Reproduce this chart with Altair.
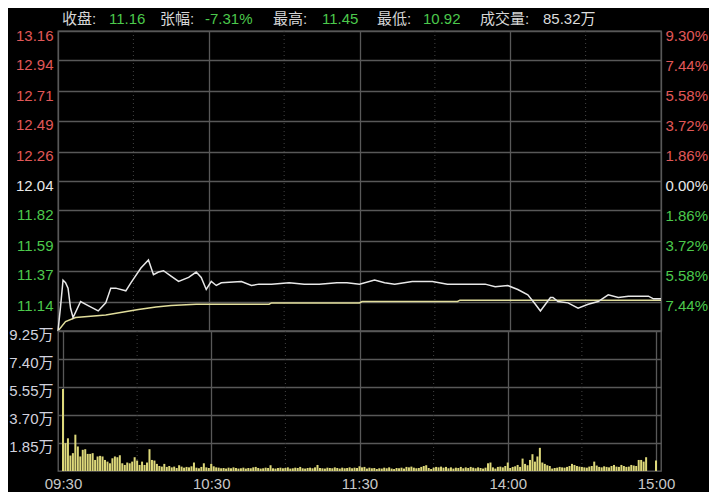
import altair as alt
import pandas as pd

# ---------------- data ----------------
PREV_CLOSE = 12.04

# minute index since 09:30 (0..240, 11:30/13:00 share index 120)
price_t = [0, 1, 2, 3, 4, 5, 6, 9, 12, 16,
           19, 21, 23, 27, 29, 33, 36, 38, 40, 42,
           45, 48, 52, 55, 57, 59, 61, 63, 65, 73,
           77, 80, 85, 92, 98, 104, 111, 115, 120, 126,
           130, 134, 141, 149, 155, 162, 170, 174, 179, 183,
           187, 190, 192, 194, 196, 197, 199, 203, 207, 211,
           215, 219, 223, 227, 231, 235, 237, 240]
price_v = [10.92, 11.10, 11.30, 11.28, 11.24, 11.09, 11.02, 11.14, 11.11, 11.07,
           11.13, 11.24, 11.24, 11.22, 11.28, 11.39, 11.45, 11.34, 11.36, 11.37,
           11.33, 11.29, 11.32, 11.36, 11.32, 11.23, 11.29, 11.26, 11.28, 11.29,
           11.26, 11.27, 11.27, 11.28, 11.27, 11.27, 11.28, 11.28, 11.27, 11.30,
           11.28, 11.27, 11.29, 11.29, 11.27, 11.27, 11.27, 11.25, 11.26, 11.23,
           11.19, 11.12, 11.07, 11.12, 11.17, 11.17, 11.14, 11.13, 11.09, 11.12,
           11.14, 11.19, 11.17, 11.18, 11.18, 11.18, 11.16, 11.16]

avg_t = [0, 3, 7, 19, 32, 39, 45, 55, 84, 85, 120, 121, 159, 160, 240]
avg_v = [10.92, 10.99, 11.02, 11.04, 11.08, 11.10, 11.11, 11.12, 11.12, 11.13,
         11.13, 11.14, 11.14, 11.15, 11.15]

# volume per minute, in 万 (10k shares)
volume = [
    5.42, 1.84, 2.16, 1.02, 1.18, 2.40, 1.62, 0.96, 1.40, 1.44,
    1.13, 1.13, 1.18, 0.73, 0.96, 1.00, 0.96, 0.73, 0.62, 0.51,
    0.84, 0.96, 0.91, 1.04, 0.51, 0.40, 0.56, 0.51, 0.62, 0.91,
    0.69, 0.40, 0.62, 0.40, 0.56, 1.44, 0.73, 0.69, 0.47, 0.33,
    0.29, 0.47, 0.27, 0.33, 0.24, 0.29, 0.20, 0.38, 0.29, 0.22,
    0.27, 0.24, 0.31, 0.56, 0.22, 0.18, 0.27, 0.51, 0.24, 0.20,
    0.47, 0.31, 0.24, 0.22, 0.18, 0.20, 0.16, 0.22, 0.18, 0.24,
    0.20, 0.16, 0.18, 0.22, 0.16, 0.20, 0.18, 0.24, 0.27, 0.20,
    0.16, 0.18, 0.22, 0.20, 0.38, 0.18, 0.16, 0.20, 0.22, 0.18,
    0.20, 0.24, 0.16, 0.18, 0.22, 0.20, 0.27, 0.18, 0.16, 0.20,
    0.22, 0.18, 0.24, 0.40, 0.20, 0.18, 0.16, 0.22, 0.20, 0.18,
    0.24, 0.20, 0.16, 0.22, 0.18, 0.20, 0.24, 0.18, 0.22, 0.20,
    0.31, 0.24, 0.27, 0.16, 0.22, 0.18, 0.20, 0.13, 0.18, 0.16,
    0.22, 0.18, 0.24, 0.16, 0.13, 0.20, 0.18, 0.22, 0.16, 0.27,
    0.24, 0.29, 0.22, 0.18, 0.20, 0.27, 0.33, 0.38, 0.20, 0.13,
    0.22, 0.27, 0.24, 0.29, 0.22, 0.27, 0.18, 0.24, 0.16, 0.22,
    0.20, 0.27, 0.18, 0.24, 0.20, 0.27, 0.22, 0.18, 0.24, 0.20,
    0.16, 0.22, 0.51, 0.56, 0.24, 0.16, 0.27, 0.29, 0.24, 0.33,
    0.56, 0.20, 0.27, 0.31, 0.40, 0.27, 0.82, 0.47, 0.38, 0.73,
    1.11, 0.62, 0.96, 1.53, 0.56, 0.47, 0.38, 0.33, 0.16, 0.20,
    0.22, 0.27, 0.24, 0.22, 0.27, 0.33, 0.47, 0.40, 0.33, 0.29,
    0.27, 0.24, 0.22, 0.29, 0.33, 0.62, 0.36, 0.27, 0.24, 0.31,
    0.27, 0.24, 0.33, 0.40, 0.29, 0.27, 0.40, 0.33, 0.27, 0.29,
    0.40, 0.36, 0.33, 0.73, 0.73, 0.62, 0.91, 0.00, 0.00, 0.00,
    0.69,
]
assert len(volume) == 241

price_ticks = [13.16, 12.94, 12.71, 12.49, 12.26, 12.04, 11.82, 11.59, 11.37, 11.14]
pct_ticks = [9.30, 7.44, 5.58, 3.72, 1.86, 0.00, -1.86, -3.72, -5.58, -7.44]
vol_ticks = [1.85, 3.70, 5.55, 7.40, 9.25]
major_t = [0, 60, 120, 180, 240]
major_lbl = ["09:30", "10:30", "11:30", "14:00", "15:00"]
half_t = [30, 90, 150, 210]

header_labels = ["收盘:", "张幅:", "最高:", "最低:", "成交量:"]
header_values = ["11.16", "-7.31%", "11.45", "10.92", "85.32万"]

# ---------------- styling ----------------
FONT = "Liberation Sans, Noto Sans CJK SC, sans-serif"
RED = "#e05858"
GREEN = "#4cc94c"
WHITE = "#e8e8e8"
GRID = "#585858"
YELLOW = "#ddd87a"
W = 603
H_PRICE = 300
H_VOL = 140

x_scale = alt.Scale(domain=[0, 240], nice=False, zero=False)
p_scale = alt.Scale(domain=[10.92, 13.16], nice=False, zero=False)

price_df = pd.DataFrame({"t": price_t, "p": price_v})
price_df["pct"] = (price_df["p"] - PREV_CLOSE) / PREV_CLOSE * 100
avg_df = pd.DataFrame({"t": avg_t, "p": avg_v})
vol_df = pd.DataFrame({"t": list(range(len(volume))), "v": volume})
dot_df = pd.DataFrame({"t": half_t})

x_top = alt.X("t:Q", scale=x_scale,
              axis=alt.Axis(values=major_t, labels=False, ticks=False, domain=False,
                            grid=True, gridColor=GRID, gridWidth=1.3, title=None))

y_price = alt.Y("p:Q", scale=p_scale,
                axis=alt.Axis(values=price_ticks, format=".2f", orient="left",
                              grid=True, gridColor=GRID, gridWidth=1.3, title=None,
                              labelOffset=4, labelPadding=5,
                              labelColor={"condition": [
                                  {"test": "datum.value > 12.05", "value": RED},
                                  {"test": "datum.value < 12.03", "value": GREEN}],
                                  "value": WHITE}))

dots_top = alt.Chart(dot_df).mark_rule(color="#444444", strokeDash=[1, 3]).encode(x=x_top)
avg_line = alt.Chart(avg_df).mark_line(color="#e2de9c", strokeWidth=1.5).encode(x=x_top, y=y_price)
price_line = alt.Chart(price_df).mark_line(color=WHITE, strokeWidth=1.5).encode(x=x_top, y=y_price)

header_x_lbl = [4, 102, 215, 319, 422]
header_x_val = [51, 147, 264, 365, 485]
header_val_colors = [GREEN, GREEN, GREEN, GREEN, "#dcdcdc"]
header_layers = []
for i in range(len(header_labels)):
    header_layers.append(
        alt.Chart(pd.DataFrame({"s": [header_labels[i]]})).mark_text(
            align="left", baseline="middle", font=FONT, fontSize=15, color="#d6d6d6"
        ).encode(x=alt.value(header_x_lbl[i]), y=alt.value(-12), text="s:N"))
    header_layers.append(
        alt.Chart(pd.DataFrame({"s": [header_values[i]]})).mark_text(
            align="left", baseline="middle", font=FONT, fontSize=15, color=header_val_colors[i]
        ).encode(x=alt.value(header_x_val[i]), y=alt.value(-12), text="s:N"))

price_main = alt.layer(dots_top, avg_line, price_line, *header_layers)

pct_layer = alt.Chart(price_df).mark_line(opacity=0).encode(
    x=x_top,
    y=alt.Y("pct:Q", scale=alt.Scale(domain=[-9.30, 9.30], nice=False, zero=False),
            axis=alt.Axis(values=pct_ticks, orient="right", grid=False, title=None,
                          labelExpr="format(abs(datum.value), '.2f') + '%'",
                          labelOffset=4, labelPadding=4,
                          labelColor={"condition": [
                              {"test": "datum.value > 0.01", "value": RED},
                              {"test": "datum.value < -0.01", "value": GREEN}],
                              "value": WHITE})))

price_chart = alt.layer(price_main, pct_layer).resolve_scale(y="independent").properties(
    width=W, height=H_PRICE)

lbl_expr = " : ".join(
    f"datum.value == {t} ? '{l}'" for t, l in zip(major_t, major_lbl)) + " : ''"

x_bot = alt.X("t:Q", scale=x_scale,
              axis=alt.Axis(values=major_t, labelExpr=lbl_expr, ticks=False, domain=False,
                            grid=True, gridColor=GRID, gridWidth=1.3, title=None,
                            labelColor="#c8c8c8", labelPadding=5, labelFontSize=15))

dots_bot = alt.Chart(dot_df).mark_rule(color="#444444", strokeDash=[1, 3]).encode(x=x_bot)
vol_bars = alt.Chart(vol_df).mark_bar(color=YELLOW, size=2).encode(
    x=x_bot,
    y=alt.Y("v:Q", scale=alt.Scale(domain=[0, 9.25], nice=False),
            axis=alt.Axis(values=vol_ticks, labelExpr="format(datum.value, '.2f') + '万'",
                          grid=True, gridColor=GRID, gridWidth=1.3, title=None,
                          labelColor="#d2d2de", labelOffset=3, labelPadding=5)))

vol_chart = alt.layer(dots_bot, vol_bars).properties(width=W, height=H_VOL)

chart = alt.vconcat(price_chart, vol_chart, spacing=0, bounds="flush").properties(
    background="#000000",
    padding={"left": 0, "right": 0, "top": 3, "bottom": 0},
).configure_view(stroke="#5e5e5e", strokeWidth=1.3).configure_axis(
    labelFont=FONT, labelFontSize=15, domain=False, ticks=False
)

chart.save("out.html", embed_options={"renderer": "svg", "actions": False})
